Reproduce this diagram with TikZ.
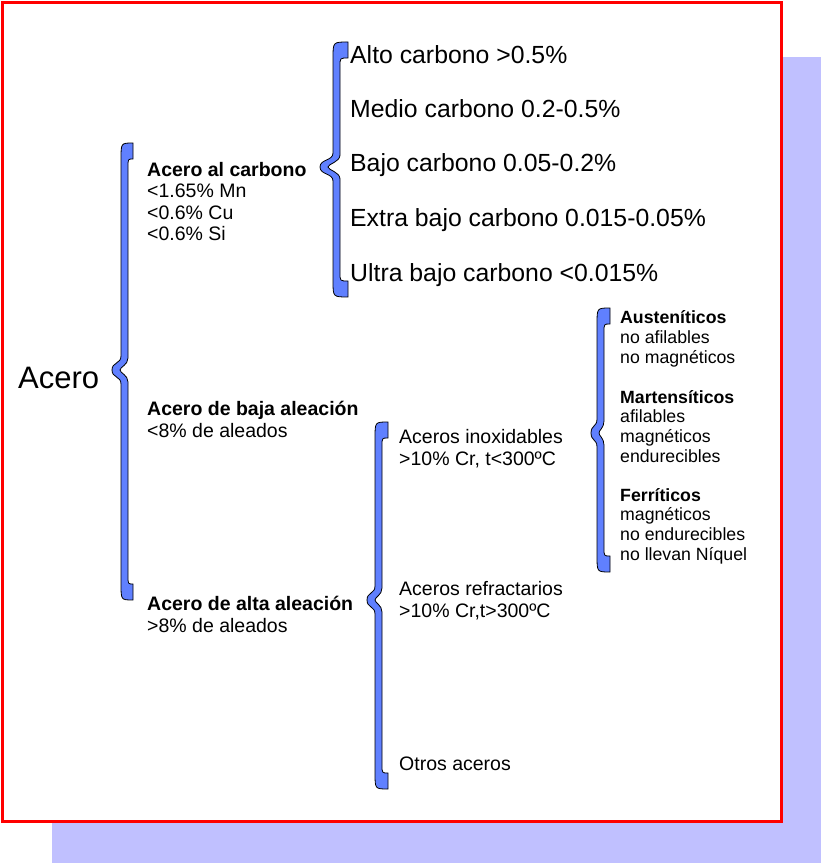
\documentclass[tikz,border=0pt]{standalone}
\usepackage{fontspec}
\setmainfont{Liberation Sans}
\usepackage{tikz}

\definecolor{llavefill}{RGB}{96,128,255}
\definecolor{sombra}{RGB}{192,192,255}

% curly brace: tip x, spine x, end x, top y, tip y, bottom y
\newcommand{\llave}[6]{%
  \filldraw[llave] (#3,#4)
    .. controls (#2,#4) .. (#2,#4+16)
    -- (#2,#5-14)
    .. controls (#2,#5-6) and (#1,#5-8) .. (#1,#5)
    .. controls (#1,#5+8) and (#2,#5+6) .. (#2,#5+14)
    -- (#2,#6-16)
    .. controls (#2,#6) .. (#3,#6)
    -- (#3,#6-16)
    .. controls (#2+7,#6-16) .. (#2+7,#6-24)
    -- (#2+7,#5+12)
    .. controls (#2+7,#5+5) and (#1+8,#5+3) .. (#1+8,#5)
    .. controls (#1+8,#5-3) and (#2+7,#5-5) .. (#2+7,#5-12)
    -- (#2+7,#4+24)
    .. controls (#2+7,#4+16) .. (#3,#4+16)
    -- cycle;}

\tikzset{
  llave/.style={fill=llavefill, draw=black, line width=0.8pt},
  txt/.style={anchor=base west, inner sep=0pt, align=left},
  grande/.style={txt, font=\fontsize{24.8}{30}\selectfont},
  medio/.style={txt, font=\fontsize{19.5}{21.5}\selectfont},
  chico/.style={txt, font=\fontsize{17.7}{19.6}\selectfont},
}

\begin{document}
\begin{tikzpicture}[x=1pt, y=-1pt]
  \useasboundingbox (0,0) rectangle (823,866);
  % shadow and frame
  \fill[sombra] (52,57) rectangle (821,863);
  \filldraw[fill=white, draw=red, line width=3pt] (2.5,2.5) rectangle (781,821.3);

  % root
  \node[txt, font=\fontsize{31}{36}\selectfont] (acero) at (18,388) {Acero};
  \llave{112}{121}{133}{143}{370}{600}

  % steel families (base = last line)
  \node[medio] (carbono) at (147,241)
    {\textbf{Acero al carbono}\\<1.65\% Mn\\<0.6\% Cu\\<0.6\% Si};
  \node[medio] (baja) at (147,437)
    {\textbf{Acero de baja aleación}\\<8\% de aleados};
  \node[medio] (alta) at (147,632)
    {\textbf{Acero de alta aleación}\\>8\% de aleados};

  % carbon content
  \llave{320}{333}{348}{42}{167}{297}
  \node[grande] (alto) at (350,64) {Alto carbono >0.5\%};
  \node[grande] (medio) at (350,118) {Medio carbono 0.2-0.5\%};
  \node[grande] (bajo) at (350,172) {Bajo carbono 0.05-0.2\%};
  \node[grande] (extra) at (350,227) {Extra bajo carbono 0.015-0.05\%};
  \node[grande] (ultra) at (350,281) {Ultra bajo carbono <0.015\%};

  % high alloy steels
  \llave{367}{375}{388}{422}{600}{789}
  \node[medio] (inox) at (399,465) {Aceros inoxidables\\>10\% Cr, t<300ºC};
  \node[medio] (refr) at (399,617) {Aceros refractarios\\>10\% Cr,t>300ºC};
  \node[medio] (otros) at (399,770) {Otros aceros};

  % stainless types
  \llave{591}{597}{610}{308}{433}{572}
  \node[chico] (aust) at (620,363)
    {\textbf{Austeníticos}\\no afilables\\no magnéticos};
  \node[chico] (mart) at (620,462)
    {\textbf{Martensíticos}\\afilables\\magnéticos\\endurecibles};
  \node[chico] (ferr) at (620,560)
    {\textbf{Ferríticos}\\magnéticos\\no endurecibles\\no llevan Níquel};
\end{tikzpicture}
\end{document}
